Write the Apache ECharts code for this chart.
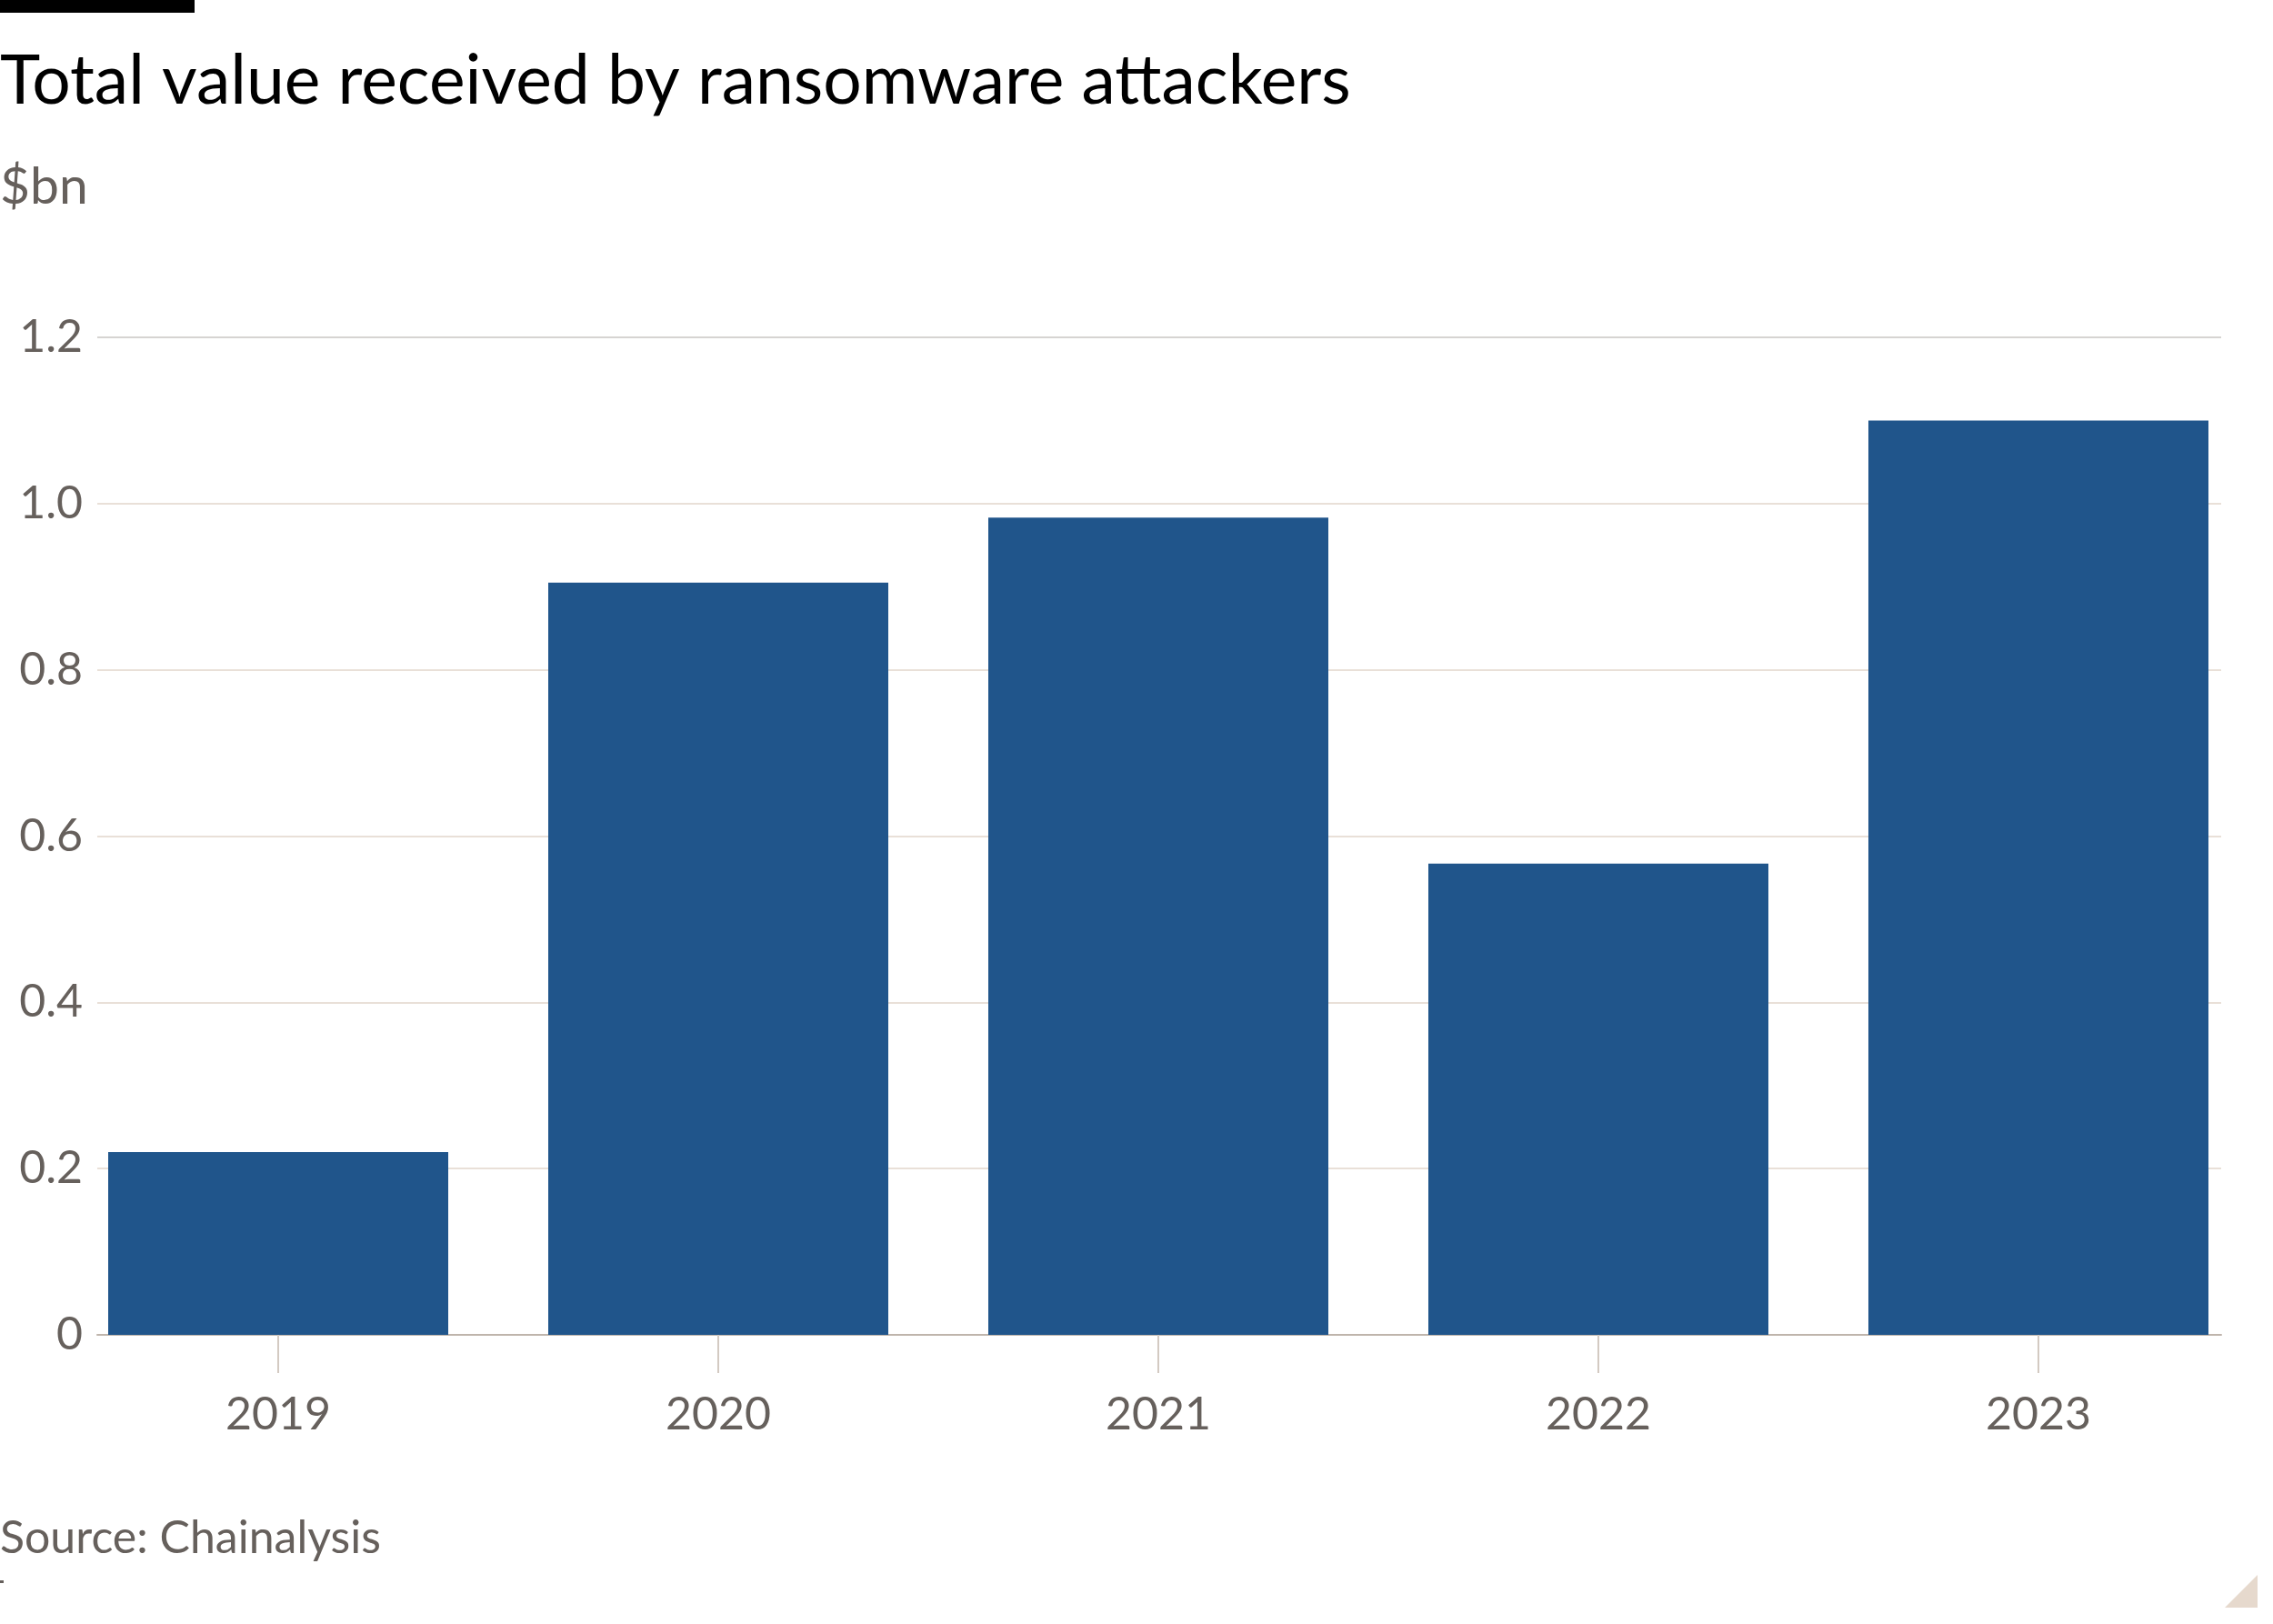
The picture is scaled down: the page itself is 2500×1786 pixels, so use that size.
<!DOCTYPE html>
<html>
<head>
<meta charset="utf-8">
<script src="https://cdn.jsdelivr.net/npm/echarts@6/dist/echarts.min.js"></script>
<style>
  html, body { margin: 0; padding: 0; background: #ffffff; }
  #chart { width: 2500px; height: 1786px; }
</style>
</head>
<body>
<div id="chart"></div>
<script>
// ---- data ----
const years = ['2019', '2020', '2021', '2022', '2023'];
const valuesBn = [0.22, 0.905, 0.983, 0.567, 1.1];
const yTicks = [0, 0.2, 0.4, 0.6, 0.8, 1.0, 1.2];

const titleText = 'Total value received by ransomware attackers';
const unitText = '$bn';
const sourceText = 'Source: Chainalysis';

const FONT = 'Lato';
const GREY = '#66605c';

const chart = echarts.init(document.getElementById('chart'), null, { renderer: 'canvas' });

const option = {
  backgroundColor: '#ffffff',
  animation: false,
  textStyle: { fontFamily: FONT },
  grid: [
    { left: 107, right: 57, top: 371, bottom: 318 },
    { left: 64, right: 16, top: 371, bottom: 318 }
  ],
  xAxis: [
    {
      gridIndex: 0, type: 'value', min: 0, max: 1,
      axisLine: { show: true, lineStyle: { color: '#bfb5ac', width: 2 } },
      axisTick: { show: false }, axisLabel: { show: false }, splitLine: { show: false }
    },
    {
      gridIndex: 1, type: 'category', data: years,
      axisLine: { show: false },
      axisTick: { show: true, alignWithLabel: true, length: 42, lineStyle: { color: '#d3cac2', width: 2 } },
      axisLabel: { color: GREY, fontSize: 50, fontFamily: FONT, margin: 63 },
      splitLine: { show: false }
    }
  ],
  yAxis: [
    {
      gridIndex: 0, type: 'value', min: yTicks[0], max: yTicks[yTicks.length - 1], interval: 0.2,
      axisLine: { show: false }, axisTick: { show: false },
      axisLabel: {
        color: GREY, fontSize: 50, fontFamily: FONT, margin: 16, padding: [10, 0, 0, 0],
        formatter: v => (v === 0 ? '0' : v.toFixed(1))
      },
      splitLine: { show: true, lineStyle: { color: ['#e9e0d8','#e9e0d8','#e9e0d8','#e9e0d8','#e9e0d8','#e9e0d8','#d6d4d2'], width: 2 } }
    },
    {
      gridIndex: 1, type: 'value', min: yTicks[0], max: yTicks[yTicks.length - 1], show: false,
      splitLine: { show: false }
    }
  ],
  series: [
    {
      type: 'bar', xAxisIndex: 1, yAxisIndex: 1,
      data: valuesBn, barWidth: 374,
      itemStyle: { color: '#20558b' }
    }
  ],
  graphic: [
    { type: 'rect', left: 0, top: 0, shape: { width: 214, height: 14 }, style: { fill: '#000000' } },
    { type: 'text', left: 0, top: 52, style: { text: titleText, fill: '#000000', font: '75px ' + FONT } },
    { type: 'text', left: 0, top: 177, style: { text: unitText, fill: GREY, font: '57px ' + FONT } },
    { type: 'text', left: 0, top: 1667, style: { text: sourceText, fill: GREY, font: '50px ' + FONT } },
    { type: 'rect', left: 0, top: 1738, shape: { width: 4, height: 3 }, style: { fill: GREY } },
    { type: 'polygon', shape: { points: [[2483, 1732], [2483, 1768], [2447, 1768]] }, style: { fill: '#e6d9cd' } }
  ]
};

chart.setOption(option);
</script>
</body>
</html>
